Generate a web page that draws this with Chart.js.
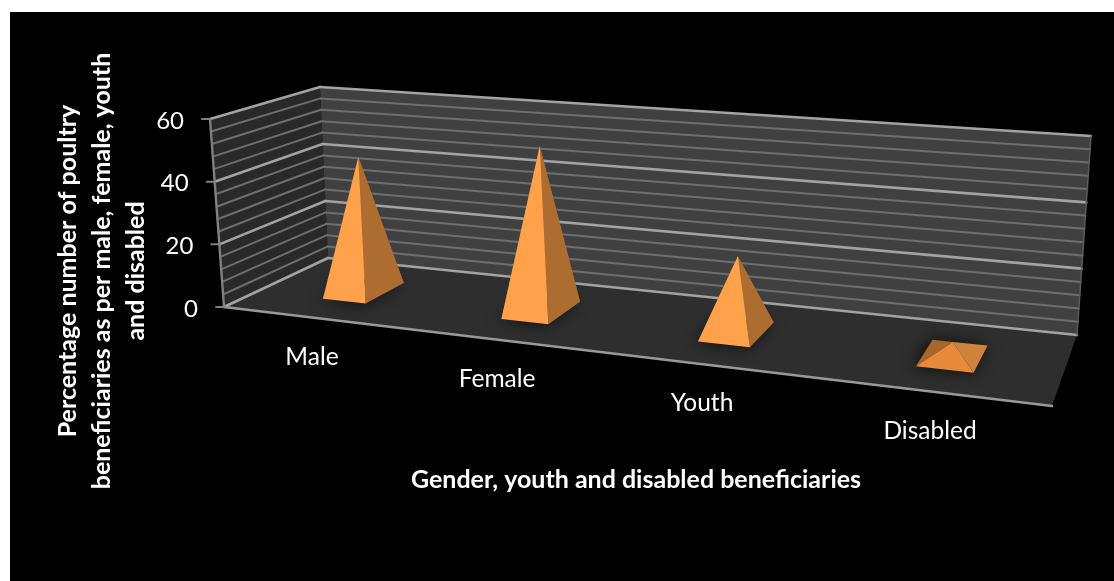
<!DOCTYPE html>
<html lang="en">

<head>
    <meta charset="UTF-8">
    <title>Poultry beneficiaries</title>
    <script src="https://cdn.jsdelivr.net/npm/chart.js"></script>
    <style>
        html, body { margin: 0; padding: 0; background: #fff; overflow: hidden; }
        canvas { display: block; }
    </style>
</head>

<body>
    <canvas id="chartPyramid" width="1114" height="581"></canvas>

    <script>
        // Data
        const categories = ['Male', 'Female', 'Youth', 'Disabled'];
        const percentValues = [44, 52, 23, 4];
        const yTickLabels = [0, 20, 40, 60];
        const minorStep = 4;
        const yTitleLines = [
            'Percentage number of poultry',
            'beneficiaries as per male, female, youth',
            'and disabled'
        ];
        const xTitleText = 'Gender, youth and disabled beneficiaries';

        const font = 'Lato';
        const halfU = 0.031;   // half width of a pyramid base along the categories
        const halfZ = 0.2;     // half depth of a pyramid base
        const uOffset = 0.004; // bars sit a little right of the band centre

        // Corners of the 3D box as they appear on the page
        const floorMap = quadMap([224, 307], [1052, 406], [1077, 335], [328, 258]);
        const topMap = quadMap([210, 119], [1055, 181], [1091, 136], [320, 87]);

        // maps the unit square onto a quad (perspective)
        function quadMap(p0, p1, p2, p3) {
            const sx = p0[0] - p1[0] + p2[0] - p3[0];
            const sy = p0[1] - p1[1] + p2[1] - p3[1];
            const dx1 = p1[0] - p2[0], dx2 = p3[0] - p2[0];
            const dy1 = p1[1] - p2[1], dy2 = p3[1] - p2[1];
            const den = dx1 * dy2 - dx2 * dy1;
            const g = (sx * dy2 - dx2 * sy) / den;
            const h = (dx1 * sy - sx * dy1) / den;
            const a = p1[0] - p0[0] + g * p1[0], b = p3[0] - p0[0] + h * p3[0];
            const d = p1[1] - p0[1] + g * p1[1], e = p3[1] - p0[1] + h * p3[1];
            return function (u, z) {
                const w = g * u + h * z + 1;
                return [(a * u + b * z + p0[0]) / w, (d * u + e * z + p0[1]) / w];
            };
        }

        function polygon(ctx, points, color) {
            ctx.beginPath();
            points.forEach(function (p, i) {
                if (i == 0) ctx.moveTo(p[0], p[1]);
                else ctx.lineTo(p[0], p[1]);
            });
            ctx.closePath();
            ctx.fillStyle = color;
            ctx.fill();
        }

        function line(ctx, a, b, color, width) {
            ctx.beginPath();
            ctx.moveTo(a[0], a[1]);
            ctx.lineTo(b[0], b[1]);
            ctx.strokeStyle = color;
            ctx.lineWidth = width;
            ctx.stroke();
        }

        // u from the category scale, v from the value scale, z is the depth in the box
        function projector(chart) {
            const area = chart.chartArea;
            const yScale = chart.scales.y;
            return function (u, z, value) {
                const t = (area.bottom - yScale.getPixelForValue(value)) / (area.bottom - area.top);
                const f = floorMap(u, z), c = topMap(u, z);
                return [f[0] + (c[0] - f[0]) * t, f[1] + (c[1] - f[1]) * t];
            };
        }

        const box3d = {
            id: 'box3d',
            beforeDraw(chart) {
                const ctx = chart.ctx;
                ctx.save();
                ctx.fillStyle = '#000';
                ctx.fillRect(10, 12, chart.width - 10, chart.height - 12);
                ctx.restore();
            },
            beforeDatasetsDraw(chart) {
                const ctx = chart.ctx;
                const P = projector(chart);
                const yScale = chart.scales.y;
                ctx.save();
                ctx.lineCap = 'round';

                // walls and floor
                polygon(ctx, [P(0, 0, 0), P(0, 1, 0), P(0, 1, 60), P(0, 0, 60)], '#292929');
                polygon(ctx, [P(0, 1, 0), P(1, 1, 0), P(1, 1, 60), P(0, 1, 60)], '#404040');
                polygon(ctx, [P(0, 0, 0), P(1, 0, 0), P(1, 1, 0), P(0, 1, 0)], '#2e2e2e');

                // grid lines on both walls
                yScale.ticks.forEach(function (tick) {
                    const major = yTickLabels.includes(tick.value);
                    const color = major ? '#a3a3a3' : '#6e6e6e';
                    const width = major ? 2.6 : 2;
                    line(ctx, P(0, 0, tick.value), P(0, 1, tick.value), color, width);
                    line(ctx, P(0, 1, tick.value), P(1, 1, tick.value), color, width);
                });

                // axis edges
                line(ctx, P(0, 0, 0), P(0, 0, 60), '#808080', 2.4);
                line(ctx, P(0, 0, 0), P(1, 0, 0), '#999999', 2.6);
                line(ctx, P(1, 1, 0), P(1, 1, 60), '#5c5c5c', 1.5);

                // value ticks and their labels
                ctx.fillStyle = '#fff';
                ctx.font = '24px ' + font;
                ctx.textAlign = 'right';
                ctx.textBaseline = 'middle';
                yTickLabels.forEach(function (v) {
                    const p = P(0, 0, v);
                    line(ctx, [p[0] - 8, p[1]], p, '#808080', 2);
                    ctx.fillText(String(v), p[0] - 26, p[1] + 2);
                });
                ctx.restore();
            },
            afterDatasetsDraw(chart) {
                const ctx = chart.ctx;
                const P = projector(chart);
                const xScale = chart.scales.x;
                const area = chart.chartArea;
                ctx.save();
                ctx.lineJoin = 'round';

                percentValues.forEach(function (value, i) {
                    const u = (xScale.getPixelForValue(i) - area.left) / area.width + uOffset;
                    const fl = P(u - halfU, 0.5 - halfZ, 0);
                    const fr = P(u + halfU, 0.5 - halfZ, 0);
                    const br = P(u + halfU, 0.5 + halfZ, 0);
                    const bl = P(u - halfU, 0.5 + halfZ, 0);
                    const apex = P(u, 0.5, value);

                    // soft shadow on the floor
                    ctx.save();
                    ctx.shadowColor = 'rgba(0,0,0,0.75)';
                    ctx.shadowBlur = 16;
                    ctx.shadowOffsetX = -2;
                    polygon(ctx, [fl, fr, br, bl], '#1c1c1c');
                    ctx.restore();

                    // flat pyramids catch less light than the tall ones
                    const tall = value > 10;
                    polygon(ctx, [bl, br, apex], '#a0622a');
                    polygon(ctx, [fl, bl, apex], '#a7662b');
                    polygon(ctx, [fr, br, apex], tall ? '#ad6d30' : '#cf823a');
                    polygon(ctx, [fl, fr, apex], tall ? '#ffa24b' : '#e78b3b');
                });

                // category labels under the floor
                ctx.fillStyle = '#fff';
                ctx.font = '24.5px ' + font;
                ctx.textAlign = 'center';
                ctx.textBaseline = 'middle';
                xScale.ticks.forEach(function (tick, i) {
                    const u = (xScale.getPixelForValue(i) - area.left) / area.width;
                    const p = P(u, 0, 0);
                    ctx.fillText(categories[i], p[0] + 2, p[1] + 39.5);
                });

                // axis titles
                ctx.font = 'bold 25px ' + font;
                ctx.fillText(xTitleText, 636, 480);
                ctx.translate(68, 271);
                ctx.rotate(-Math.PI / 2);
                yTitleLines.forEach(function (text, i) {
                    ctx.fillText(text, 0, i * 34);
                });
                ctx.restore();
            }
        };

        new Chart(document.getElementById('chartPyramid'), {
            type: 'bar',
            data: {
                labels: categories,
                datasets: [{
                    label: 'Percentage',
                    data: percentValues,
                    backgroundColor: 'rgba(0,0,0,0)'
                }]
            },
            plugins: [box3d],
            options: {
                responsive: false,
                animation: false,
                layout: { padding: { left: 224, top: 119, right: 62, bottom: 274 } },
                plugins: { legend: { display: false }, tooltip: { enabled: false } },
                scales: {
                    x: { display: false },
                    y: { display: false, min: 0, max: 60, ticks: { stepSize: minorStep, autoSkip: false } }
                }
            }
        });
    </script>
</body>

</html>
